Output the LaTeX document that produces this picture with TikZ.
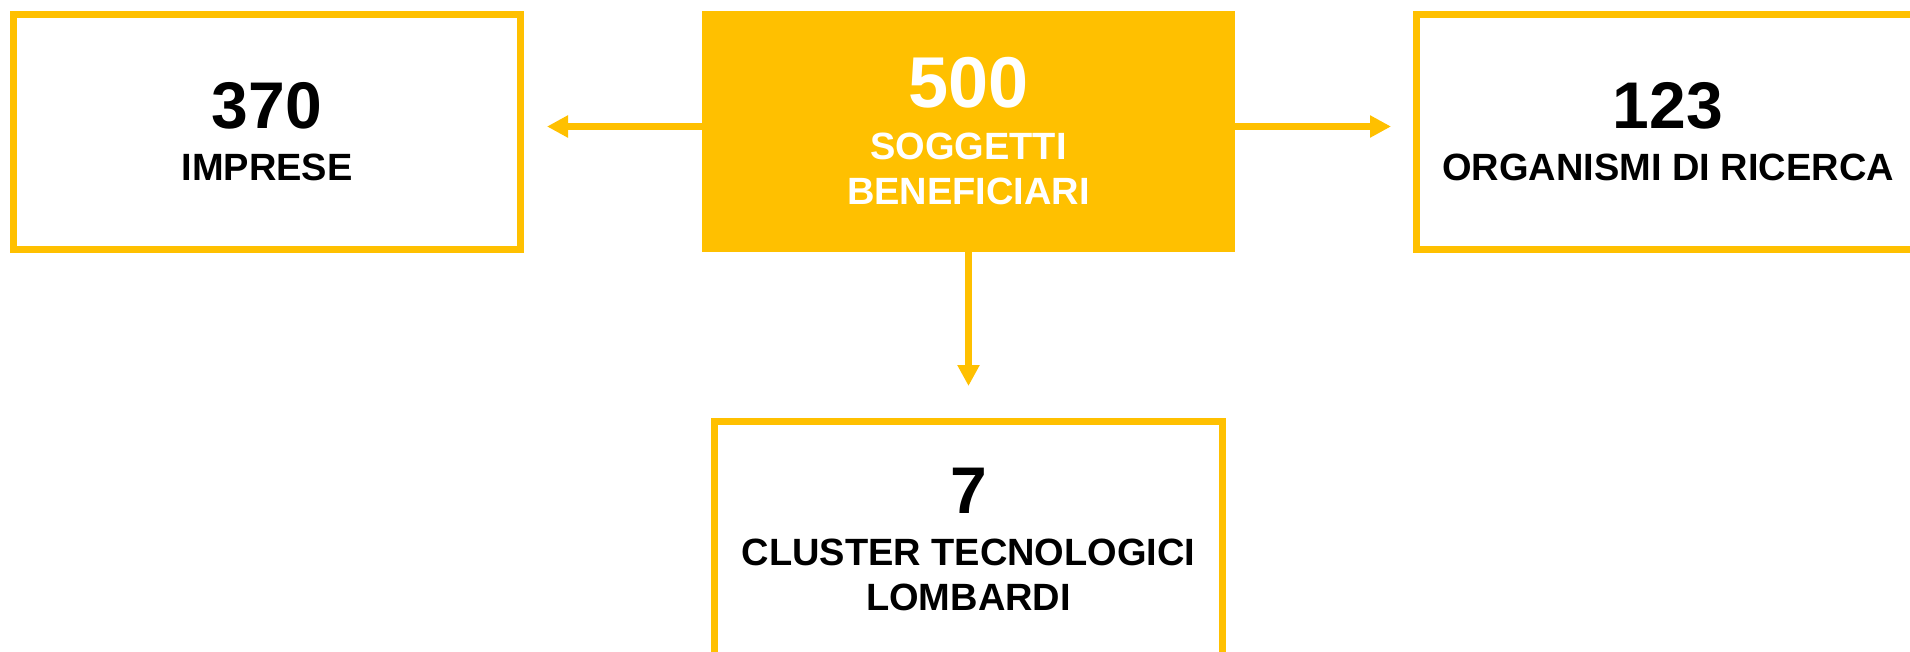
\documentclass[tikz,border=0pt]{standalone}
\usepackage{fontspec}
\setmainfont{Liberation Sans}
\usetikzlibrary{arrows.meta}
\definecolor{mygold}{RGB}{255,192,0}
\newcommand*{\mytextstyle}{\bfseries\fontsize{38}{45}\selectfont}
\newcommand{\mynumber}[2]{%
   % font size, number
   {\fontsize{#1}{#1}\selectfont #2}\\[7pt]%
}
\tikzset{
   box/.style = {
      draw         = mygold,
      line width   = 7pt,
      inner sep    = 0pt,
      align        = center,
      font         = \mytextstyle,
      text         = black
   },
   link/.style = {
      mygold,
      line width = 7pt,
      -{Triangle[length=21pt,width=21pt]}
   }
}

\begin{document}
\begin{tikzpicture}[x=1pt,y=-1pt]
   \useasboundingbox (0,0) rectangle (1910,651);
   \clip (0,0) rectangle (1910,651);

   \node (soggetti) at (968.5,131.5) [
      fill           = mygold,
      minimum width  = 533pt,
      minimum height = 241pt,
      inner sep      = 0pt,
      align          = center,
      font           = \mytextstyle,
      text           = white
   ]{
      \mynumber{72}{500}SOGGETTI\\BENEFICIARI
   };

   \node (imprese) at (267,131.5) [
      box,
      minimum width  = 507pt,
      minimum height = 235pt
   ]{
      \mynumber{66}{370}IMPRESE
   };

   \node (organismi) at (1668,131.5) [
      box,
      minimum width  = 503pt,
      minimum height = 235pt
   ]{
      \mynumber{66}{123}ORGANISMI DI RICERCA
   };

   \node (cluster) at (968.5,539) [
      box,
      minimum width  = 508pt,
      minimum height = 235pt
   ]{
      \mynumber{66}{7}CLUSTER TECNOLOGICI\\LOMBARDI
   };

   \draw[link, shorten >=23pt] ([yshift=5pt]soggetti.west) -- ([yshift=5pt]imprese.east);
   \draw[link, shorten >=22pt] ([yshift=5pt]soggetti.east) -- ([yshift=5pt]organismi.west);
   \draw[link, shorten >=32pt] (soggetti.south) -- (cluster.north);
\end{tikzpicture}
\end{document}
